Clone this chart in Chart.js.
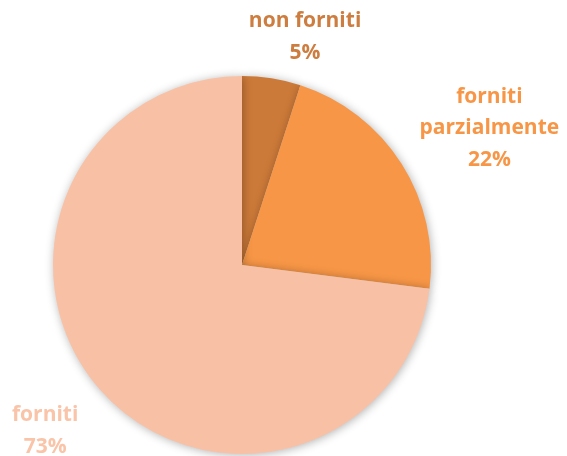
<!DOCTYPE html>
<html>
<head>
<meta charset="utf-8">
<script src="https://cdn.jsdelivr.net/npm/chart.js@4.4.1/dist/chart.umd.min.js"></script>
<style>
html,body{margin:0;padding:0;background:#fff;}
#wrap{width:567px;height:456px;position:relative;}
</style>
</head>
<body>
<div id="wrap"><canvas id="c" width="567" height="456"></canvas></div>
<script>
const categories = ["non forniti", "forniti parzialmente", "forniti"];
const labelLines = [["non forniti"], ["forniti", "parzialmente"], ["forniti"]];
const values = [5, 22, 73];
const colors = ["#CC7A39", "#F79646", "#F8C1A5"];
const labelColors = ["#CD7D40", "#F79646", "#F9C4A8"];
// label placement: distance factor (x radius) and pixel nudges
const labelDist = [1.22, 1.5, 1.36];
const labelNudge = [[27, 0], [8, 15], [-4, -4]];

const shadowPlugin = {
  id: 'shadow',
  beforeDatasetsDraw(chart) {
    const ctx = chart.ctx;
    ctx.save();
    ctx.shadowColor = 'rgba(0,0,0,0.3)';
    ctx.shadowBlur = 10;
    ctx.shadowOffsetX = 1;
    ctx.shadowOffsetY = 1;
  },
  afterDatasetsDraw(chart) {
    chart.ctx.restore();
  }
};

const labelPlugin = {
  id: 'sliceLabels',
  afterDraw(chart) {
    const ctx = chart.ctx;
    const meta = chart.getDatasetMeta(0);
    const total = values.reduce((a, b) => a + b, 0);
    ctx.save();
    ctx.font = "bold 21px 'Open Sans', 'Liberation Sans', sans-serif";
    ctx.textAlign = 'center';
    ctx.textBaseline = 'middle';
    meta.data.forEach((arc, i) => {
      const p = arc.getProps(['x', 'y', 'startAngle', 'endAngle', 'outerRadius'], true);
      const mid = (p.startAngle + p.endAngle) / 2;
      const r = p.outerRadius * labelDist[i];
      const cx = p.x + Math.cos(mid) * r + labelNudge[i][0];
      const cy = p.y + Math.sin(mid) * r + labelNudge[i][1];
      const lines = labelLines[i].concat([Math.round(values[i] / total * 100) + '%']);
      const lh = 31.5;
      const y0 = cy - (lines.length - 1) * lh / 2;
      ctx.fillStyle = labelColors[i];
      lines.forEach((t, k) => ctx.fillText(t, cx, y0 + k * lh));
    });
    ctx.restore();
  }
};

new Chart(document.getElementById('c'), {
  type: 'pie',
  data: {
    labels: categories,
    datasets: [{
      data: values,
      backgroundColor: colors,
      borderWidth: 0
    }]
  },
  options: {
    responsive: false,
    animation: false,
    rotation: 0,
    layout: { padding: { top: 76, bottom: 2, left: 53, right: 136 } },
    plugins: {
      legend: { display: false },
      tooltip: { enabled: false },
      title: { display: false }
    }
  },
  plugins: [shadowPlugin, labelPlugin]
});
</script>
</body>
</html>
